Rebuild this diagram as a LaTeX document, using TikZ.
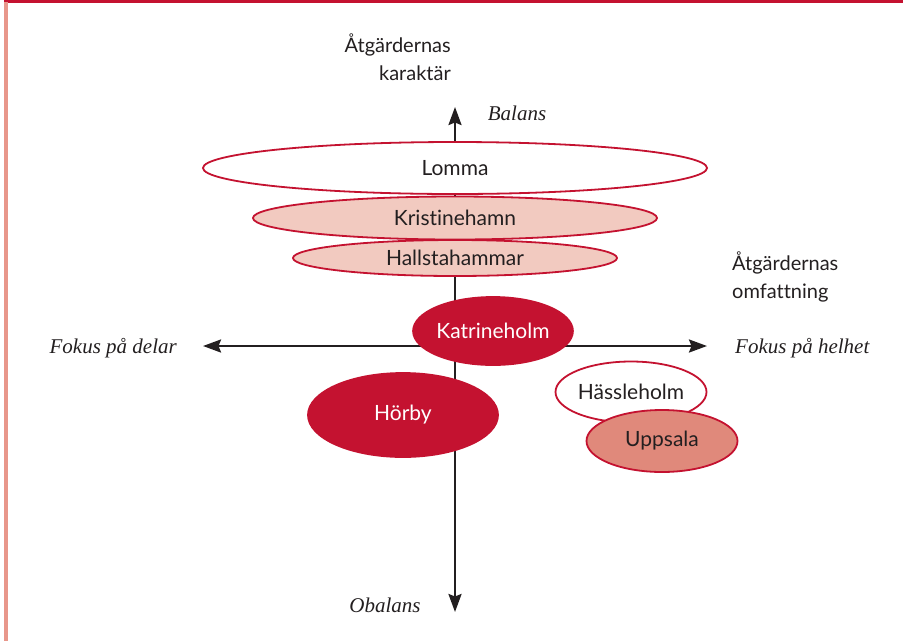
\documentclass[tikz,border=0pt]{standalone}
\usepackage{fontspec}
\setmainfont{Lato}[Ligatures=NoCommon]
\newfontfamily\serifit{Liberation Serif}
\usetikzlibrary{shapes.geometric,arrows.meta}
\definecolor{dred}{HTML}{C41230}
\definecolor{pinkfill}{HTML}{F2CAC0}
\definecolor{salmon}{HTML}{E0897B}
\definecolor{barpink}{HTML}{E8978B}
\definecolor{txt}{HTML}{231F20}
\tikzset{
  ell/.style={ellipse, draw=dred, line width=1.8pt, inner sep=0pt, font=\fontsize{21}{24}\selectfont, text=txt},
  dark/.style={ell, fill=dred, text=white},
  axis/.style={line width=2.4pt, draw=txt, -{Stealth[length=18pt,width=13pt,inset=2.5pt]}},
  lab/.style={font=\fontsize{20}{28}\selectfont, text=txt, inner sep=0pt},
  ital/.style={font=\serifit\itshape\fontsize{21}{24}\selectfont, text=txt, inner sep=0pt}
}
\begin{document}
\begin{tikzpicture}[x=1pt,y=-1pt]
\useasboundingbox (0,0) rectangle (903,641);
% frame
\fill[dred] (4,0) rectangle (903,3);
\fill[barpink] (4,2) rectangle (7.5,641);
% axes
\coordinate (top) at (455,107);
\coordinate (bot) at (455,612);
\coordinate (left) at (203,346);
\coordinate (right) at (707,346);
\coordinate (ctr) at (455,346);
\draw[axis] (ctr) -- (top);
\draw[axis] (ctr) -- (bot);
\draw[axis] (ctr) -- (left);
\draw[axis] (ctr) -- (right);
% ellipses
\node[ell, fill=white, minimum width=504, minimum height=52] (lomma) at (455,168) {Lomma};
\node[ell, fill=pinkfill, minimum width=404, minimum height=43] (kris) at (455,218) {Kristinehamn};
\node[ell, fill=pinkfill, minimum width=324, minimum height=36] (hall) at (455,258) {Hallstahammar};
\node[dark, minimum width=150, minimum height=68] (katr) at (493,331) {Katrineholm};
\node[dark, minimum width=190, minimum height=84] (horby) at (403,415) {Hörby};
\node[ell, fill=white, minimum width=151, minimum height=61] (hass) at (631,392) {Hässleholm};
\node[ell, fill=salmon, minimum width=151, minimum height=62] (upps) at (662,441) {Uppsala};
% labels
\node[lab, align=right, anchor=base east] (kar) at (451,80) {Åtgärdernas\\karaktär};
\node[lab, align=left, anchor=base west] (omf) at (732,298) {Åtgärdernas\\omfattning};
\node[ital, anchor=base] (bal) at (517,120) {Balans};
\node[ital, anchor=base] (obal) at (385,612) {Obalans};
\node[ital, anchor=base east] (delar) at (177,353) {Fokus på delar};
\node[ital, anchor=base west] (helhet) at (735,353) {Fokus på helhet};
\end{tikzpicture}
\end{document}
